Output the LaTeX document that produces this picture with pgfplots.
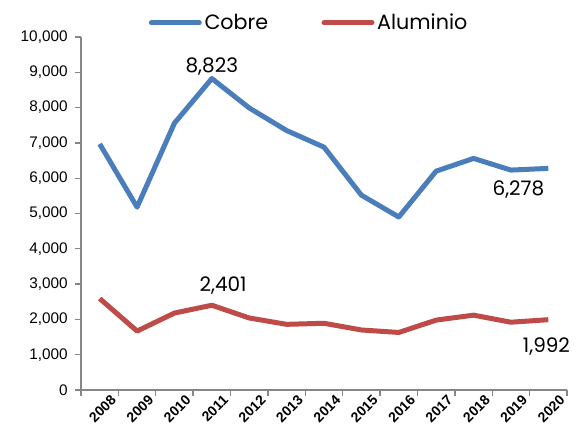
\documentclass[border=0pt]{standalone}
\usepackage{fontspec}
\setmainfont{Liberation Sans}
\newfontfamily\gfont{Poppins}
\usepackage{pgfplots}
\pgfplotsset{compat=1.18}
\definecolor{cobre}{HTML}{4A7EBB}
\definecolor{alum}{HTML}{BE4B48}
\definecolor{axgray}{HTML}{868686}
\begin{document}
\begin{tikzpicture}
\begin{axis}[
  scale only axis,
  width=364.5pt, height=264.75pt,
  xmin=-0.5, xmax=12.5,
  ymin=0, ymax=10000,
  axis x line*=bottom, axis y line*=left,
  axis line style={axgray, line width=1.2pt},
  xtick={0,...,12},
  xticklabels={2008,2009,2010,2011,2012,2013,2014,2015,2016,2017,2018,2019,2020},
  major x tick style={draw=none},
  minor xtick={-0.5,0.5,...,12.5},
  minor tick length=4.5pt,
  minor x tick style={axgray, line width=1pt},
  x tick label style={rotate=45, anchor=north east, font=\bfseries\fontsize{10.5}{12}\selectfont, inner sep=0.5pt, xshift=7pt, yshift=-4pt},
  ytick={0,1000,...,10000},
  scaled y ticks=false,
  yticklabel style={font=\fontsize{11.5}{13}\selectfont, xshift=-2pt},
  yticklabel={\pgfmathprintnumber[fixed, 1000 sep={,}, assume math mode=true]{\tick}},
  tick align=outside,
  major tick length=4.5pt,
  major y tick style={axgray, line width=1pt},
  legend style={draw=none, fill=none, at={(0.47,1.04)}, anchor=center,
    legend columns=2, font=\gfont\fontsize{15.5}{18}\selectfont,
    /tikz/every even column/.append style={column sep=38pt}},
  legend image code/.code={\draw[#1, line width=3.75pt, line cap=round] (0pt,0pt) -- (36pt,0pt);},
  clip=false,
]
\addplot[cobre, line width=3.75pt, line join=round] coordinates {
(0,6970) (1,5180) (2,7560) (3,8823) (4,7990) (5,7350) (6,6880) (7,5520) (8,4900) (9,6200) (10,6560) (11,6230) (12,6278)};
\addlegendentry{Cobre}
\addplot[alum, line width=3.75pt, line join=round] coordinates {
(0,2590) (1,1670) (2,2180) (3,2401) (4,2040) (5,1860) (6,1890) (7,1700) (8,1630) (9,1980) (10,2120) (11,1920) (12,1992)};
\addlegendentry{Aluminio}
\node[above, font=\gfont\fontsize{15}{17}\selectfont, inner sep=1pt, yshift=1pt] at (axis cs:3,8823) {8,823};
\node[above, font=\gfont\fontsize{15}{17}\selectfont, inner sep=1pt, yshift=7pt] at (axis cs:3.3,2401) {2,401};
\node[below, font=\gfont\fontsize{15}{17}\selectfont, inner sep=1pt, yshift=-8pt] at (axis cs:11.2,6278) {6,278};
\node[below, font=\gfont\fontsize{15}{17}\selectfont, inner sep=1pt, yshift=-12pt] at (axis cs:11.95,1992) {1,992};
\end{axis}
\path (current axis.south west) ++(-60.75pt,-38.25pt) coordinate (bl);
\path (current axis.north east) ++(8.25pt,27.75pt) coordinate (tr);
\useasboundingbox (bl) rectangle (tr);
\end{tikzpicture}
\end{document}
